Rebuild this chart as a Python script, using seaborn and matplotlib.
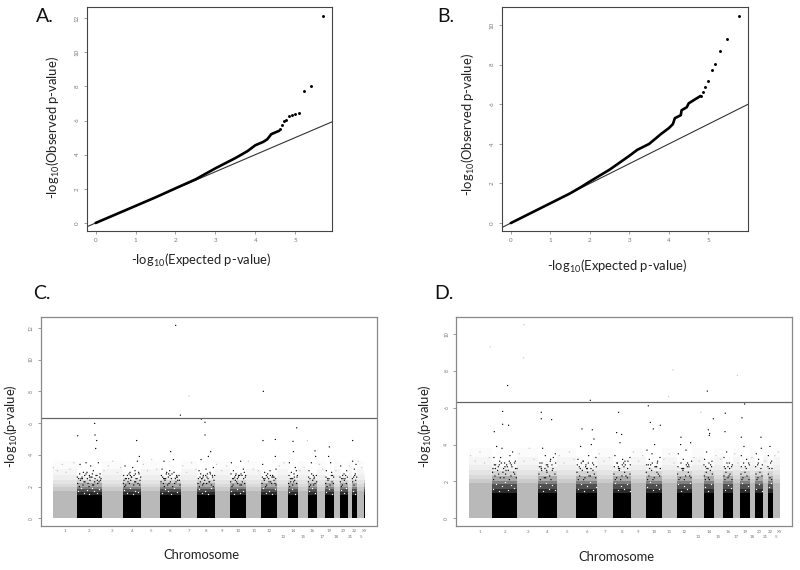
import matplotlib
matplotlib.use("Agg")
import matplotlib.pyplot as plt
import seaborn as sns
import pandas as pd

# QQ panels: dense part of the curve, then the separate tail points
qq_a_exp = [0, 0.5, 1, 1.5, 2, 2.5, 3, 3.5, 3.8, 4.0, 4.2, 4.3, 4.4, 4.6]
qq_a_obs = [0, 0.5, 1.0, 1.5, 2.03, 2.55, 3.2, 3.8, 4.2, 4.55, 4.75, 4.9, 5.2, 5.4]
tail_a_exp = [4.61, 4.67, 4.72, 4.78, 4.84, 4.91, 4.99, 5.09, 5.22, 5.39, 5.69]
tail_a_obs = [5.48, 5.73, 5.98, 6.02, 6.28, 6.35, 6.39, 6.45, 7.7, 8.01, 12.12]

qq_b_exp = [0, 0.5, 1, 1.5, 1.8, 2, 2.5, 3, 3.2, 3.5, 3.8, 4.0, 4.1, 4.15, 4.3, 4.32, 4.45, 4.5, 4.7, 4.8]
qq_b_obs = [0, 0.5, 1.0, 1.5, 1.85, 2.1, 2.7, 3.4, 3.7, 4.0, 4.5, 4.8, 5.0, 5.3, 5.45, 5.7, 5.85, 6.05, 6.3, 6.42]
tail_b_exp = [4.8, 4.87, 4.92, 5.0, 5.08, 5.17, 5.3, 5.47, 5.77]
tail_b_obs = [6.41, 6.62, 6.89, 7.19, 7.71, 8.06, 8.7, 9.31, 10.47]

# Manhattan panels: chromosome edges along the genome axis
edges_c = [160, 230, 305, 368, 423, 481, 542, 592, 645, 690, 739, 784, 830, 864, 895, 923, 952, 975, 1002, 1019, 1043, 1056, 1071, 1093, 1095]
edges_d = [206, 276, 352, 415, 471, 529, 591, 640, 693, 737, 786, 831, 876, 911, 941, 970, 998, 1021, 1050, 1066, 1089, 1103, 1118, 1139, 1141]

chrom_top = ["1", "2", "3", "4", "5", "6", "7", "8", "9", "10", "11", "12", "14", "16", "19", "20", "22", "XY"]
chrom_low = ["13", "15", "17", "18", "21", "5"]
top_pos_c = [195, 268, 336, 396, 452, 511, 567, 618, 667, 715, 762, 807, 880, 937, 988, 1031, 1063, 1094]
low_pos_c = [848, 908, 965, 1010, 1050, 1083]
top_pos_d = [241, 314, 384, 443, 501, 560, 615, 666, 715, 762, 809, 853, 928, 984, 1035, 1078, 1110, 1139]
low_pos_d = [894, 956, 1010, 1058, 1096, 1128]

# Band heights (-log10 p) for the odd/even chromosomes, tallest first
gray_shades = ["#fbfbfb", "#f5f5f5", "#eeeeee", "#e4e4e4", "#d9d9d9", "#cbcbcb", "#b9b9b9"]
gray_levels_c = [3.6, 3.1, 2.7, 2.4, 2.15, 1.95, 1.72]
gray_levels_d = [3.8, 3.3, 2.9, 2.6, 2.35, 2.12, 1.9]
black_shades = ["#fafafa", "#eeeeee", "#d4d4d4", "#aaaaaa", "#808080", "#505050", "#2a2a2a", "#000000"]
black_levels_c = [2.9, 2.6, 2.4, 2.2, 2.0, 1.85, 1.68, 1.47]
black_levels_d = [3.1, 2.8, 2.55, 2.3, 2.05, 1.85, 1.6, 1.38]

# Separate points
pts_c_x = [527, 790, 567, 541, 604, 615, 284, 890, 615, 285, 233, 410, 290, 789, 826, 879, 1058, 922, 988, 945,
           240, 250, 258, 268, 272, 280, 287, 295, 300, 236, 246, 262, 276, 292,
           375, 382, 390, 398, 405, 412, 418, 372, 386, 395, 408, 416,
           486, 492, 500, 506, 512, 520, 530, 538, 488, 497, 509, 516, 526,
           597, 603, 610, 618, 625, 632, 640, 600, 606, 622, 630, 637,
           694, 700, 708, 716, 722, 730, 736, 698, 712, 726, 733,
           788, 794, 802, 810, 818, 826, 791, 806, 822, 828,
           868, 874, 880, 886, 892, 871, 883, 889,
           927, 934, 940, 947, 930, 943, 979, 986, 992, 998, 983, 995,
           1022, 1028, 1035, 1040, 1025, 1032, 1058, 1063, 1068, 1061, 1066,
           233, 241, 249, 255, 264, 270, 278, 284, 293, 301, 238, 252, 267, 281, 297,
           370, 377, 384, 392, 401, 407, 414, 420, 374, 388, 404, 419,
           483, 490, 495, 503, 511, 518, 524, 533, 540, 493, 507, 528,
           594, 601, 608, 614, 620, 627, 634, 642, 598, 611, 629, 640,
           692, 699, 706, 713, 720, 727, 734, 696, 710, 724,
           786, 793, 800, 807, 815, 822, 828, 797, 812, 825,
           866, 872, 878, 884, 890, 869, 881, 925, 932, 938, 945, 950, 928, 941,
           977, 984, 990, 996, 1000, 981, 1021, 1027, 1033, 1039, 1024, 1058, 1062, 1067,
           232, 239, 247, 254, 261, 269, 277, 285, 291, 299, 243, 258, 273, 288, 303,
           371, 379, 387, 394, 402, 411, 417, 422, 376, 391, 406,
           484, 491, 499, 505, 514, 522, 529, 537, 494, 510, 532,
           595, 602, 609, 617, 624, 631, 638, 644, 605, 621,
           693, 701, 707, 715, 723, 731, 737, 704, 719,
           787, 795, 803, 811, 819, 827, 799, 816,
           867, 875, 882, 891, 878, 926, 935, 942, 949, 978, 987, 994, 1001,
           1020, 1029, 1037, 1042, 1057, 1064, 1070,
           160, 172, 186, 198, 210, 222, 312, 325, 338, 352, 362, 430, 442, 455, 470, 548, 560, 575, 588,
           650, 665, 680, 745, 760, 775, 838, 852, 900, 912, 958, 968, 1008, 1048, 1075, 1085]
pts_c_y = [12.15, 8.0, 7.7, 6.5, 6.25, 6.05, 5.98, 5.7, 5.25, 5.25, 5.2, 4.9, 4.9, 4.9, 4.97, 4.85, 4.9, 4.9, 4.5, 4.25,
           3.4, 2.9, 3.5, 2.7, 3.3, 3.0, 4.4, 3.5, 2.8, 2.5, 2.6, 2.5, 2.6, 2.4,
           3.3, 2.7, 2.9, 3.2, 3.0, 3.6, 3.9, 2.4, 2.5, 2.6, 2.5, 2.9,
           3.1, 3.6, 2.9, 2.8, 4.2, 3.7, 2.7, 2.4, 2.6, 2.5, 3.0, 2.8, 2.5,
           3.0, 3.7, 2.7, 3.1, 3.9, 4.2, 3.2, 2.6, 2.5, 2.8, 2.9, 2.7,
           3.5, 3.0, 2.8, 2.7, 3.6, 3.1, 2.6, 2.5, 2.5, 2.7, 2.9,
           3.4, 2.9, 2.6, 3.0, 2.7, 3.9, 2.5, 2.5, 2.6, 3.1,
           3.5, 2.9, 4.2, 3.2, 2.7, 2.5, 2.6, 3.0,
           3.0, 3.5, 2.7, 3.9, 2.5, 2.6, 3.0, 3.9, 3.5, 2.7, 2.5, 2.9,
           3.3, 2.7, 2.5, 3.0, 2.5, 2.8, 3.6, 3.1, 3.4, 2.6, 2.8,
           2.2, 2.4, 2.1, 2.3, 2.2, 2.4, 2.1, 2.3, 2.2, 2.4, 2.0, 2.3, 2.0, 2.1, 2.3,
           2.2, 2.1, 2.3, 2.4, 2.1, 2.3, 2.2, 2.4, 2.0, 2.2, 2.3, 2.1,
           2.3, 2.2, 2.4, 2.1, 2.3, 2.0, 2.2, 2.4, 2.1, 2.0, 2.2, 2.3,
           2.2, 2.3, 2.1, 2.4, 2.2, 2.3, 2.1, 2.4, 2.0, 2.2, 2.3, 2.0,
           2.3, 2.1, 2.4, 2.2, 2.1, 2.3, 2.2, 2.0, 2.3, 2.1,
           2.2, 2.4, 2.1, 2.3, 2.2, 2.4, 2.1, 2.0, 2.3, 2.2,
           2.2, 2.3, 2.1, 2.4, 2.2, 2.0, 2.3, 2.3, 2.1, 2.4, 2.2, 2.3, 2.0, 2.1,
           2.2, 2.4, 2.1, 2.3, 2.2, 2.0, 2.3, 2.1, 2.4, 2.2, 2.0, 2.3, 2.1, 2.4,
           2.6, 2.8, 2.5, 2.7, 2.9, 2.6, 2.8, 2.5, 2.7, 2.6, 2.5, 2.8, 2.6, 2.7, 2.5,
           2.7, 2.5, 2.8, 2.6, 2.7, 2.5, 2.8, 2.6, 2.5, 2.7, 2.8,
           2.7, 2.5, 2.8, 2.6, 2.5, 2.9, 2.6, 2.7, 2.5, 2.7, 2.6,
           2.5, 2.8, 2.6, 2.7, 2.5, 2.8, 2.6, 2.7, 2.5, 2.6,
           2.8, 2.5, 2.7, 2.6, 2.8, 2.5, 2.7, 2.6, 2.7,
           2.6, 2.5, 2.8, 2.7, 2.6, 2.5, 2.7, 2.6,
           2.7, 2.5, 2.8, 2.6, 2.5, 2.6, 2.8, 2.5, 2.7, 2.6, 2.5, 2.7, 2.6,
           2.6, 2.5, 2.7, 2.6, 2.5, 2.7, 2.6,
           3.2, 3.0, 3.4, 2.9, 3.1, 3.5, 3.0, 3.3, 3.6, 2.9, 3.2, 3.4, 3.0, 3.7, 3.1, 3.3, 2.9, 3.5, 3.1,
           3.4, 3.0, 3.3, 3.6, 3.1, 3.0, 3.3, 3.5, 3.0, 3.2, 3.4, 3.1, 3.0, 3.3, 3.6, 3.2]

# Holes in the black columns of panel C
holes_c_x = [235, 244, 252, 260, 268, 275, 283, 290, 298, 372, 380, 389, 398, 406, 415, 486, 495, 504, 513, 522, 531, 597, 606, 615, 624, 633,
             694, 703, 712, 721, 730, 788, 797, 806, 815, 824, 868, 877, 886, 927, 936, 945, 979, 988, 997, 1023, 1031, 1039, 1060, 1066]
holes_c_y = [1.7, 1.9, 1.6, 1.8, 1.55, 1.9, 1.7, 1.6, 1.85, 1.8, 1.6, 1.9, 1.55, 1.75, 1.65, 1.6, 1.85, 1.7, 1.55, 1.9, 1.65, 1.85, 1.6, 1.75, 1.55, 1.9,
             1.7, 1.55, 1.85, 1.6, 1.75, 1.9, 1.6, 1.75, 1.55, 1.85, 1.65, 1.85, 1.55, 1.75, 1.9, 1.6, 1.65, 1.85, 1.55, 1.8, 1.6, 1.9, 1.7, 1.55]

# Separate points
pts_d_x = [372, 271, 371, 819, 1012, 323, 922, 571, 806, 1034, 745, 308, 424, 903, 1026, 940, 976, 424, 455, 656,
           308, 326, 283, 665, 546, 577, 751, 760, 781, 650, 925, 929, 1024, 1083, 975, 843,
           282, 290, 298, 306, 314, 322, 330, 338, 346, 286, 302, 318, 334,
           420, 428, 436, 444, 452, 460, 466, 424, 440, 456,
           534, 542, 550, 558, 566, 574, 582, 588, 538, 562, 578,
           645, 652, 660, 668, 676, 684, 690, 656, 672,
           741, 748, 756, 764, 772, 780, 745, 768,
           835, 842, 850, 858, 866, 872, 846, 862,
           914, 920, 928, 936, 917, 932,
           972, 980, 988, 995, 976, 1024, 1032, 1040, 1046, 1036,
           1069, 1076, 1084, 1073, 1105, 1110, 1115, 1108,
           278, 285, 293, 301, 309, 317, 325, 333, 341, 349, 281, 296, 312, 328, 344,
           417, 425, 433, 441, 449, 457, 465, 421, 437, 453,
           531, 539, 547, 555, 563, 571, 579, 587, 535, 551, 567, 583,
           642, 650, 658, 666, 674, 682, 690, 646, 662, 678,
           739, 747, 755, 763, 771, 779, 743, 759, 775,
           833, 841, 849, 857, 865, 873, 837, 853, 869,
           913, 919, 925, 931, 937, 916, 928, 972, 978, 984, 990, 996, 975, 987,
           1023, 1029, 1035, 1041, 1047, 1026, 1068, 1074, 1080, 1086, 1071, 1105, 1110, 1115,
           279, 287, 295, 304, 311, 320, 328, 336, 344, 351, 283, 299, 315, 331, 347,
           418, 426, 435, 443, 451, 459, 467, 423, 439,
           532, 541, 549, 557, 565, 573, 581, 589, 544, 560,
           643, 651, 659, 667, 675, 683, 691, 655, 671,
           740, 749, 757, 765, 773, 781, 752, 770,
           834, 843, 851, 859, 867, 875, 847, 863,
           912, 921, 927, 935, 924, 973, 981, 989, 997, 984,
           1024, 1031, 1039, 1048, 1067, 1075, 1083, 1087, 1104, 1112, 1116,
           212, 226, 240, 254, 268, 358, 372, 388, 402, 478, 492, 508, 522, 598, 612, 628,
           700, 716, 728, 792, 808, 822, 882, 898, 948, 962, 1004, 1014, 1056, 1095, 1125, 1135]
pts_d_y = [10.5, 9.3, 8.7, 8.05, 7.75, 7.2, 6.9, 6.4, 6.6, 6.2, 6.1, 5.8, 5.75, 5.75, 5.45, 5.4, 5.7, 5.4, 5.35, 5.75,
           5.1, 5.05, 4.7, 4.55, 4.85, 4.8, 5.2, 4.85, 5.05, 4.65, 4.8, 4.6, 4.4, 4.4, 4.7, 4.4,
           3.3, 3.9, 2.9, 3.8, 3.0, 2.8, 3.4, 3.6, 3.1, 2.7, 3.3, 2.6, 2.9,
           3.0, 3.8, 3.4, 2.8, 3.2, 3.3, 3.5, 2.7, 2.6, 2.9,
           3.2, 3.9, 3.1, 2.9, 3.4, 4.0, 4.3, 3.3, 2.8, 2.7, 3.0,
           3.4, 3.0, 4.1, 3.2, 2.9, 3.1, 3.3, 2.7, 2.8,
           3.7, 3.2, 3.5, 4.0, 3.0, 3.3, 2.9, 2.8,
           3.5, 4.0, 3.2, 3.7, 2.9, 4.1, 2.7, 2.8,
           3.2, 3.6, 4.5, 3.1, 2.8, 2.9,
           3.3, 3.6, 3.0, 2.8, 2.7, 3.4, 3.9, 3.2, 3.0, 2.8,
           3.5, 3.2, 3.8, 2.9, 3.4, 3.9, 3.1, 2.7,
           2.5, 2.3, 2.6, 2.2, 2.5, 2.4, 2.6, 2.3, 2.5, 2.2, 2.1, 2.4, 2.2, 2.1, 2.4,
           2.4, 2.6, 2.2, 2.5, 2.3, 2.6, 2.4, 2.1, 2.2, 2.1,
           2.5, 2.3, 2.6, 2.2, 2.5, 2.3, 2.6, 2.2, 2.1, 2.1, 2.3, 2.4,
           2.4, 2.2, 2.6, 2.3, 2.5, 2.2, 2.4, 2.1, 2.1, 2.3,
           2.5, 2.3, 2.6, 2.2, 2.5, 2.3, 2.1, 2.1, 2.4,
           2.4, 2.2, 2.6, 2.3, 2.5, 2.2, 2.1, 2.1, 2.3,
           2.3, 2.5, 2.2, 2.6, 2.4, 2.1, 2.1, 2.3, 2.5, 2.2, 2.4, 2.1, 2.1, 2.3,
           2.4, 2.2, 2.5, 2.3, 2.1, 2.1, 2.4, 2.2, 2.5, 2.3, 2.1, 2.4, 2.2, 2.1,
           2.7, 2.9, 2.8, 3.0, 2.7, 2.9, 3.1, 2.8, 3.0, 2.7, 2.9, 3.1, 2.8, 3.0, 2.7,
           2.8, 3.0, 2.7, 2.9, 3.1, 2.7, 3.0, 2.8, 2.9,
           2.9, 2.7, 3.1, 2.8, 3.0, 2.7, 2.9, 2.8, 3.0, 2.7,
           2.8, 3.0, 2.7, 2.9, 3.1, 2.7, 2.9, 2.8, 3.0,
           2.9, 2.7, 3.0, 2.8, 3.1, 2.7, 2.9, 2.8,
           2.8, 3.0, 2.7, 2.9, 2.8, 3.1, 2.7, 3.0,
           2.9, 2.7, 3.0, 2.8, 2.7, 2.8, 3.0, 2.7, 2.9, 2.8,
           2.8, 3.0, 2.7, 2.9, 2.8, 3.0, 2.7, 2.9, 2.8, 3.0, 2.7,
           3.4, 3.1, 3.6, 3.0, 3.3, 3.5, 3.1, 3.8, 3.2, 3.4, 3.0, 3.6, 3.2, 3.5, 3.1, 3.3,
           3.6, 3.1, 3.4, 3.2, 3.5, 3.0, 3.3, 3.1, 3.4, 3.2, 3.5, 3.0, 3.3, 3.1, 3.4, 3.6]

# Holes in the black columns of panel D
holes_d_x = [280, 289, 298, 307, 316, 325, 334, 343, 419, 428, 437, 446, 455, 464, 533, 542, 551, 560, 569, 578, 587, 644, 653, 662, 671, 680, 689,
             741, 750, 759, 768, 777, 835, 844, 853, 862, 871, 914, 923, 932, 974, 983, 992, 1025, 1034, 1043, 1069, 1078, 1086, 1106, 1112]
holes_d_y = [1.6, 1.85, 1.5, 1.75, 1.95, 1.55, 1.8, 1.65, 1.75, 1.5, 1.9, 1.6, 1.8, 1.55, 1.6, 1.85, 1.5, 1.75, 1.95, 1.55, 1.7, 1.9, 1.55, 1.75, 1.6, 1.85, 1.5,
             1.7, 1.95, 1.55, 1.8, 1.6, 1.85, 1.5, 1.75, 1.6, 1.9, 1.7, 1.5, 1.85, 1.55, 1.8, 1.65, 1.9, 1.55, 1.75, 1.6, 1.85, 1.5, 1.7, 1.9]

sns.set_theme(style="white")
plt.rcParams["font.family"] = ["Lato", "DejaVu Sans"]
plt.rcParams["mathtext.default"] = "regular"

W, H = 800, 570
fig = plt.figure(figsize=(W / 100, H / 100), dpi=100)
tick_gray = "#777777"
frame_gray = "#444444"
label_dark = "#222222"
label_size = 9.4


def make_axes(left, right, top, bottom):
    ax = fig.add_axes([left / W, 1 - bottom / H, (right - left) / W, (bottom - top) / H])
    ax.tick_params(axis="both", length=2.5, width=0.5, labelsize=4.5, colors=tick_gray, pad=2.5,
                   left=True, bottom=True)
    return ax


def qq_panel(ax, exp, obs, tail_x, tail_y, xlim, ylim, yticks, ylabel_xy, xlabel_xy):
    ax.set_xlim(*xlim)
    ax.set_ylim(*ylim)
    ax.axline((0, 0), slope=1, color="#333333", lw=0.8)
    sns.lineplot(x=exp, y=obs, color="black", lw=1.9, sort=False, errorbar=None, ax=ax)
    sns.scatterplot(x=tail_x, y=tail_y, color="black", s=4.5, linewidth=0, ax=ax)
    ax.set_xticks([0, 1, 2, 3, 4, 5])
    ax.set_yticks(yticks)
    plt.setp(ax.get_yticklabels(), rotation=90, va="center")
    for sp in ax.spines.values():
        sp.set_color(frame_gray)
        sp.set_linewidth(0.8)
    ax.set_xlabel("-log$_{10}$(Expected p-value)", fontsize=label_size, color=label_dark)
    ax.set_ylabel("-log$_{10}$(Observed p-value)", fontsize=label_size, color=label_dark)
    ax.xaxis.set_label_coords(*xlabel_xy)
    ax.yaxis.set_label_coords(*ylabel_xy)


def manhattan_panel(ax, edges, gray_levels, black_levels, pts_x, pts_y, holes_x, holes_y,
                    top_pos, low_pos, xlim, ylim, cut, ylabel_xy, xlabel_xy):
    ax.set_xlim(*xlim)
    ax.set_ylim(*ylim)
    n = len(edges) - 1
    # odd chromosomes in gray, even in black, each as stacked bands
    for start, levels, shades in [(0, gray_levels, gray_shades), (1, black_levels, black_shades)]:
        for level, shade in zip(levels, shades):
            bands = pd.DataFrame({"pos": edges[:-1],
                                  "height": [level if i % 2 == start else 0 for i in range(n)]})
            sns.histplot(data=bands, x="pos", weights="height", bins=edges, color=shade, alpha=1,
                         linewidth=0, ax=ax)
    sns.scatterplot(x=holes_x, y=holes_y, color="white", s=0.9, linewidth=0, ax=ax)
    # points take the colour of the chromosome they sit on
    pts = pd.DataFrame({"pos": pts_x, "value": pts_y})
    pts["chrom"] = pd.cut(pts["pos"], bins=edges, labels=False, include_lowest=True)
    pts["tone"] = ["dark" if c % 2 == 1 else "pale" for c in pts["chrom"].fillna(0)]
    sns.scatterplot(data=pts, x="pos", y="value", hue="tone", palette={"dark": "black", "pale": "#c2c2c2"},
                    s=0.9, linewidth=0, legend=False, ax=ax)
    ax.axhline(cut, color="#666666", lw=0.9)
    ax.set_yticks([0, 2, 4, 6, 8, 10, 12])
    ax.set_ylim(*ylim)
    plt.setp(ax.get_yticklabels(), rotation=90, va="center")
    ax.set_xticks(top_pos + low_pos)
    ax.set_xticklabels(chrom_top + ["\n" + c for c in chrom_low], fontsize=3.2, linespacing=1.5)
    ax.tick_params(axis="x", length=0, pad=2.5)
    ax.tick_params(axis="y", labelsize=3.6)
    for sp in ax.spines.values():
        sp.set_color("#888888")
        sp.set_linewidth(0.9)
    ax.set_ylabel("-log$_{10}$(p-value)", fontsize=label_size, color=label_dark)
    ax.set_xlabel("Chromosome", fontsize=label_size, color=label_dark)
    ax.xaxis.set_label_coords(*xlabel_xy)
    ax.yaxis.set_label_coords(*ylabel_xy)


ax_a = make_axes(86.7, 332.3, 7.3, 231)
qq_panel(ax_a, qq_a_exp, qq_a_obs, tail_a_exp, tail_a_obs, (-0.225, 5.93), (-0.47, 12.63),
         [0, 2, 4, 6, 8, 10, 12], (-0.10, 0.464), (0.468, -0.094))

ax_b = make_axes(501.7, 748, 7.3, 231)
qq_panel(ax_b, qq_b_exp, qq_b_obs, tail_b_exp, tail_b_obs, (-0.23, 6.0), (-0.4, 10.9),
         [0, 2, 4, 6, 8, 10], (-0.10, 0.478), (0.467, -0.12))

ax_c = make_axes(40.7, 377, 317.3, 526)
manhattan_panel(ax_c, edges_c, gray_levels_c, black_levels_c, pts_c_x, pts_c_y, holes_c_x, holes_c_y,
                top_pos_c, low_pos_c, (122, 1131), (-0.48, 12.66), 6.32, (-0.0615, 0.48), (0.477, -0.11))

ax_d = make_axes(456.3, 792.3, 317.3, 526.3)
manhattan_panel(ax_d, edges_d, gray_levels_d, black_levels_d, pts_d_x, pts_d_y, holes_d_x, holes_d_y,
                top_pos_d, low_pos_d, (169, 1177), (-0.43, 10.9), 6.3, (-0.066, 0.48), (0.478, -0.12))

# panel letters
for letter, x, y in [("A.", 36, 22.5), ("B.", 437, 22.5), ("C.", 33, 299), ("D.", 434, 299)]:
    fig.text(x / W, 1 - y / H, letter, fontsize=14, color="#111111", ha="left", va="baseline")

fig.savefig("out.png", dpi=100)
